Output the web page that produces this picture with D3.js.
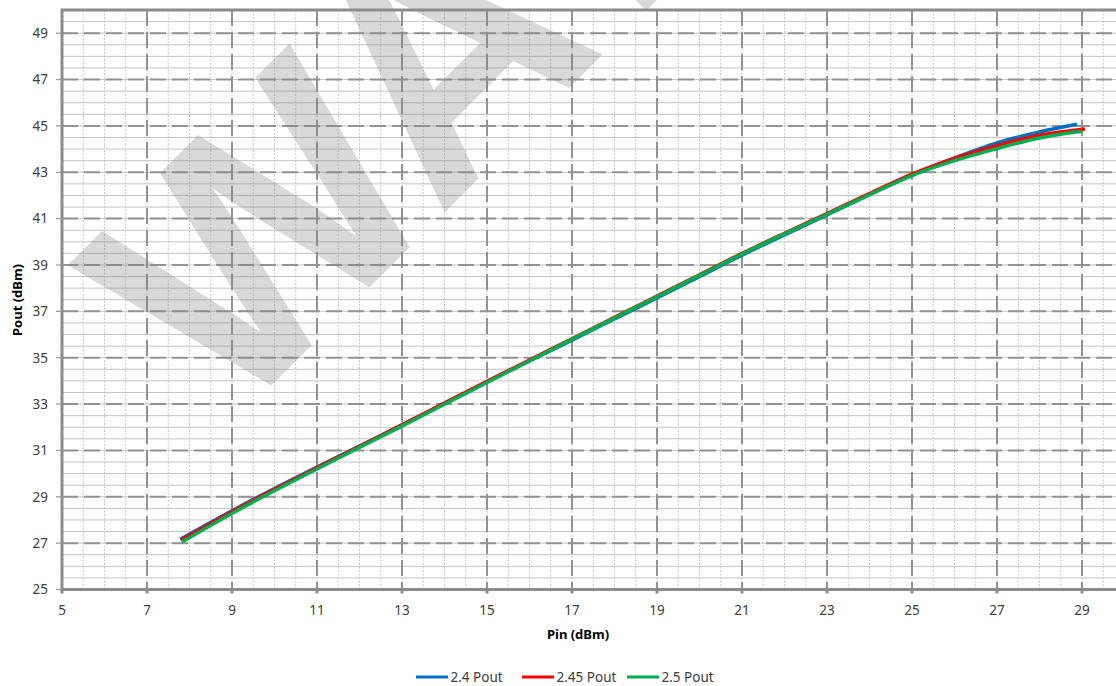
<!DOCTYPE html>
<html>
<head>
<meta charset="utf-8">
<script src="https://cdn.jsdelivr.net/npm/d3@7"></script>
<style>
	body{margin:0;background:#fff;}
	text{font-family:"Noto Sans", "DejaVu Sans", sans-serif;}
</style>
</head>
<body>
<div id="chart"></div>
<script>
//-------Chart data
var seriesNames = ["2.4 Pout", "2.45 Pout", "2.5 Pout"];
var seriesColors = ["#0070C0", "#FF0000", "#00B050"];

var pin24  = [7.78, 9, 10, 11, 12, 13, 14, 15, 16, 17, 18, 19, 20, 21, 22, 23, 24, 25, 26, 27, 28, 28.88];
var pout24 = [27.17, 28.4, 29.36, 30.28, 31.19, 32.1, 33.03, 33.95, 34.86, 35.76, 36.67, 37.58, 38.5, 39.42, 40.3, 41.16, 42.03, 42.88, 43.62, 44.27, 44.74, 45.07];

var pin245  = [7.8, 9, 10, 11, 12, 13, 14, 15, 16, 17, 18, 19, 20, 21, 22, 23, 24, 25, 26, 27, 28, 29.07];
var pout245 = [27.12, 28.35, 29.32, 30.25, 31.18, 32.1, 33.04, 33.98, 34.9, 35.82, 36.74, 37.66, 38.58, 39.5, 40.37, 41.22, 42.08, 42.92, 43.6, 44.15, 44.6, 44.87];

var pin25  = [7.82, 9, 10, 11, 12, 13, 14, 15, 16, 17, 18, 19, 20, 21, 22, 23, 24, 25, 26, 27, 28, 29.0];
var pout25 = [27.05, 28.28, 29.26, 30.2, 31.13, 32.05, 32.99, 33.93, 34.86, 35.79, 36.71, 37.63, 38.55, 39.47, 40.34, 41.18, 42.03, 42.86, 43.5, 44.02, 44.48, 44.77];

var xTicks = [5, 7, 9, 11, 13, 15, 17, 19, 21, 23, 25, 27, 29];
var yTicks = [25, 27, 29, 31, 33, 35, 37, 39, 41, 43, 45, 47, 49];
var xTitle = "Pin (dBm)";
var yTitle = "Pout (dBm)";
var watermark = "WATERMARK";

draw();

function draw(){
	var w = 1116, h = 686;

	var svg = d3.select("#chart").append("svg")
		.attr("width", w)
		.attr("height", h);

	svg.append("rect").attr("width", w).attr("height", h).style("fill", "#fff");

	//plot area runs off the right edge of the picture (x = 30 is outside)
	var x = d3.scaleLinear().domain([5, 30]).range([62, 1124.5]);
	var y = d3.scaleLinear().domain([25, 50]).range([589.5, 10]);

	//minor grid every 0.5
	var minorX = d3.range(5.5, 30, 0.5);
	var minorY = d3.range(25.5, 50, 0.5);

	svg.append("g").selectAll("line")
		.data(minorY)
		.enter().append("line")
		.attr("x1", x(5)).attr("x2", w)
		.attr("y1", function(d){ return y(d); })
		.attr("y2", function(d){ return y(d); })
		.style("stroke", "#c4c4c4")
		.style("stroke-width", 1);

	svg.append("g").selectAll("line")
		.data(minorX)
		.enter().append("line")
		.attr("x1", function(d){ return x(d); })
		.attr("x2", function(d){ return x(d); })
		.attr("y1", y(50)).attr("y2", y(25))
		.style("stroke", "#c6c6c6")
		.style("stroke-width", 1)
		.style("stroke-dasharray", "2,1.5");

	//major dashed grid
	svg.append("g").selectAll("line")
		.data(yTicks.slice(1))
		.enter().append("line")
		.attr("x1", x(5)).attr("x2", w)
		.attr("y1", function(d){ return y(d); })
		.attr("y2", function(d){ return y(d); })
		.style("stroke", "#929292")
		.style("stroke-width", 2)
		.style("stroke-dasharray", "16,6");

	svg.append("g").selectAll("line")
		.data(xTicks.slice(1))
		.enter().append("line")
		.attr("x1", function(d){ return x(d); })
		.attr("x2", function(d){ return x(d); })
		.attr("y1", y(50)).attr("y2", y(25))
		.style("stroke", "#929292")
		.style("stroke-width", 2)
		.style("stroke-dasharray", "16,6");

	//watermark sits over the grid, half see-through
	svg.append("text")
		.attr("transform", "translate(229.5,427.5) rotate(-45)")
		.style("font-family", "'Liberation Sans', Arial, sans-serif")
		.style("font-weight", "bold")
		.style("font-size", "333px")
		.style("fill", "#808080")
		.style("fill-opacity", 0.3)
		.text(watermark);

	//plot border (left, top, bottom)
	svg.append("path")
		.attr("d", "M" + w + "," + y(50) + "H" + x(5) + "V" + y(25) + "H" + w)
		.style("fill", "none")
		.style("stroke", "#8c8c8c")
		.style("stroke-width", 3);

	//ticks
	svg.append("g").selectAll("line")
		.data(yTicks)
		.enter().append("line")
		.attr("x1", x(5) - 6).attr("x2", x(5))
		.attr("y1", function(d){ return y(d); })
		.attr("y2", function(d){ return y(d); })
		.style("stroke", "#999")
		.style("stroke-width", 1.2);

	svg.append("g").selectAll("line")
		.data(xTicks)
		.enter().append("line")
		.attr("x1", function(d){ return x(d); })
		.attr("x2", function(d){ return x(d); })
		.attr("y1", y(25)).attr("y2", y(25) + 4)
		.style("stroke", "#8c8c8c")
		.style("stroke-width", 3);

	//tick labels
	svg.append("g").selectAll("text")
		.data(yTicks)
		.enter().append("text")
		.attr("x", 48)
		.attr("y", function(d){ return y(d) + 4.8; })
		.attr("text-anchor", "end")
		.style("font-size", "13.5px")
		.style("fill", "#404040")
		.text(function(d){ return d; });

	svg.append("g").selectAll("text")
		.data(xTicks)
		.enter().append("text")
		.attr("x", function(d){ return x(d); })
		.attr("y", 615)
		.attr("text-anchor", "middle")
		.style("font-size", "13.5px")
		.style("fill", "#404040")
		.text(function(d){ return d; });

	//axis titles
	svg.append("text")
		.attr("x", 578).attr("y", 639)
		.attr("text-anchor", "middle")
		.style("font-size", "13px")
		.style("font-weight", "bold")
		.style("fill", "#000")
		.text(xTitle);

	svg.append("text")
		.attr("transform", "translate(22,300) rotate(-90)")
		.attr("text-anchor", "middle")
		.style("font-size", "13px")
		.style("font-weight", "bold")
		.style("fill", "#000")
		.text(yTitle);

	//curves: blue, red, green (green ends up on top)
	var series = [[pin24, pout24], [pin245, pout245], [pin25, pout25]];
	var line = d3.line()
		.x(function(d){ return x(d[0]); })
		.y(function(d){ return y(d[1]); })
		.curve(d3.curveMonotoneX);

	for(var i = 0; i < series.length; i++){
		var pts = d3.zip(series[i][0], series[i][1]);
		svg.append("path")
			.datum(pts)
			.attr("d", line)
			.style("fill", "none")
			.style("stroke", seriesColors[i])
			.style("stroke-width", 3.5)
			.style("stroke-linecap", "butt");
	}

	addLegend(svg);
}

/**
 * legend row under the chart
 */
function addLegend(svg){
	var starts = [416, 522, 627];
	for(var i = 0; i < seriesNames.length; i++){
		svg.append("line")
			.attr("x1", starts[i]).attr("x2", starts[i] + 32)
			.attr("y1", 677).attr("y2", 677)
			.style("stroke", seriesColors[i])
			.style("stroke-width", 3);
		svg.append("text")
			.attr("x", starts[i] + 34.5)
			.attr("y", 682)
			.style("font-size", "13.5px")
			.style("fill", "#404040")
			.text(seriesNames[i]);
	}
}
</script>
</body>
</html>
